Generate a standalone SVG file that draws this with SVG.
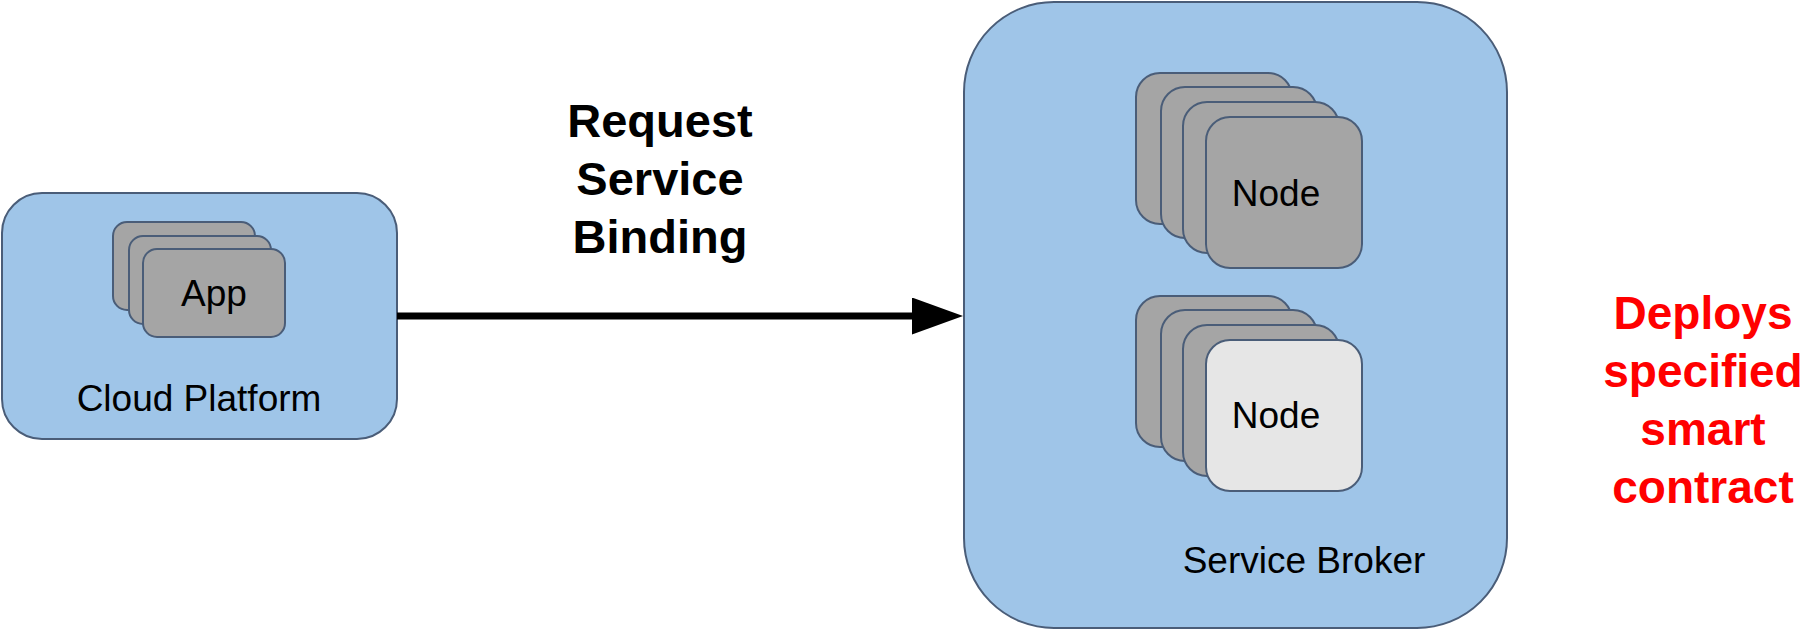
<svg xmlns="http://www.w3.org/2000/svg" width="1810" height="635" viewBox="0 0 1810 635">
  <defs>
    <style>
      .box { fill: #9fc5e8; stroke: #4a5d78; stroke-width: 2; }
      .card { fill: #a5a5a5; stroke: #4a5d78; stroke-width: 2; }
      .card-light { fill: #e6e6e6; stroke: #4a5d78; stroke-width: 2; }
      .lbl { font-family: "Liberation Sans", Arial, sans-serif; font-size: 37px; fill: #000; text-anchor: middle; }
      .bold { font-family: "Liberation Sans", Arial, sans-serif; font-weight: bold; font-size: 47px; text-anchor: middle; }
      .red { font-size: 46px; }
    </style>
    <marker id="arrow" markerUnits="userSpaceOnUse" markerWidth="52" markerHeight="38" refX="3" refY="18.5" orient="auto">
      <path d="M0,0 L51,18.5 L0,37 Z" fill="#000"/>
    </marker>
  </defs>

  <g id="cloud-platform">
    <rect class="box" x="2" y="193" width="395" height="246" rx="40" ry="40"/>
    <text class="lbl" x="199" y="411">Cloud Platform</text>
  </g>

  <g id="app">
    <rect class="card" x="113" y="222" width="142" height="88" rx="14" ry="14"/>
    <rect class="card" x="129" y="236" width="142" height="88" rx="14" ry="14"/>
    <rect class="card" x="143" y="249" width="142" height="88" rx="14" ry="14"/>
    <text class="lbl" x="214" y="306">App</text>
  </g>

  <g id="service-broker">
    <rect class="box" x="964" y="2" width="543" height="626" rx="90" ry="90"/>
    <text class="lbl" x="1304" y="573">Service Broker</text>
  </g>

  <g id="node-stack-1">
    <rect class="card" x="1136" y="73" width="156" height="151" rx="24" ry="24"/>
    <rect class="card" x="1161" y="87" width="156" height="151" rx="24" ry="24"/>
    <rect class="card" x="1183" y="102" width="156" height="151" rx="24" ry="24"/>
    <rect class="card" x="1206" y="117" width="156" height="151" rx="24" ry="24"/>
    <text class="lbl" x="1276" y="206">Node</text>
  </g>

  <g id="node-stack-2">
    <rect class="card" x="1136" y="296" width="156" height="151" rx="24" ry="24"/>
    <rect class="card" x="1161" y="310" width="156" height="151" rx="24" ry="24"/>
    <rect class="card" x="1183" y="325" width="156" height="151" rx="24" ry="24"/>
    <rect class="card-light" x="1206" y="340" width="156" height="151" rx="24" ry="24"/>
    <text class="lbl" x="1276" y="428">Node</text>
  </g>

  <g id="connectors">
    <line x1="397" y1="316" x2="915" y2="316" stroke="#000" stroke-width="7" marker-end="url(#arrow)"/>
    <text class="bold" x="660" y="137" fill="#000">Request</text>
    <text class="bold" x="660" y="195" fill="#000">Service</text>
    <text class="bold" x="660" y="253" fill="#000">Binding</text>
  </g>

  <g id="deploys-note">
    <text class="bold red" x="1703" y="329" fill="#ff0000">Deploys</text>
    <text class="bold red" x="1703" y="387" fill="#ff0000">specified</text>
    <text class="bold red" x="1703" y="445" fill="#ff0000">smart</text>
    <text class="bold red" x="1703" y="503" fill="#ff0000">contract</text>
  </g>
</svg>
